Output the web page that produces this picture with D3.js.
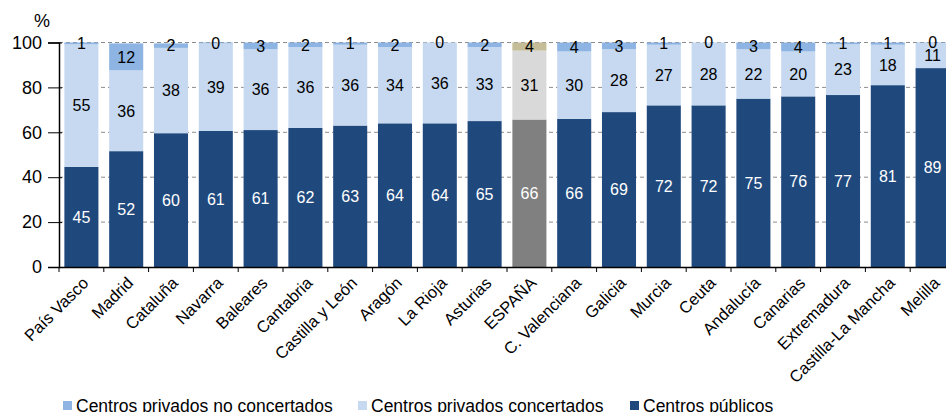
<!DOCTYPE html>
<html>
<head>
<meta charset="utf-8">
<script src="https://d3js.org/d3.v7.min.js"></script>
<style>
  body { margin: 0; background: #fff; }
  svg { display: block; font-family: "Liberation Sans", Arial, sans-serif; }
</style>
</head>
<body>
<div id="chart"></div>
<script>
// regions, ordered as in the chart
var regions = ["País Vasco", "Madrid", "Cataluña", "Navarra", "Baleares", "Cantabria",
  "Castilla y León", "Aragón", "La Rioja", "Asturias", "ESPAÑA", "C. Valenciana",
  "Galicia", "Murcia", "Ceuta", "Andalucía", "Canarias", "Extremadura",
  "Castilla-La Mancha", "Melilla"];
// shares in % (labels show rounded values)
var publicos    = [44.6, 51.6, 59.6, 60.6, 61, 62, 63, 64, 64, 65, 65.7, 66, 69, 72, 72, 75, 76, 76.6, 81, 88.6];
var concertados = [54.6, 36, 38, 39, 36, 36, 36, 34, 36, 33, 30.7, 30, 28, 27, 28, 22, 20, 22.6, 18, 11.2];
var noConcert   = [0.8, 12, 2, 0.4, 3, 2, 1, 2, 0, 2, 3.6, 4, 3, 1, 0, 3, 4, 0.8, 1, 0.2];
var yTicks = [0, 20, 40, 60, 80, 100];

var seriesNames = ["Centros privados no concertados", "Centros privados concertados", "Centros públicos"];
var colors = {pub: "#1f497d", conc: "#c6d9f1", noc: "#8db4e2"};
var spainColors = {pub: "#808080", conc: "#d9d9d9", noc: "#c4bd97"};

var W = 946, H = 412;
var svg = d3.select("#chart").append("svg").attr("width", W).attr("height", H);

var x = d3.scaleBand().domain(regions).range([59, 955]).paddingInner(0.24).paddingOuter(0.12);
var y = d3.scaleLinear().domain([0, 100]).range([267, 42.5]);

// gridlines
svg.append("g").selectAll("line").data(yTicks.filter(d => d > 0)).enter().append("line")
  .attr("x1", 59).attr("x2", W).attr("y1", d => y(d)).attr("y2", d => y(d))
  .attr("stroke", "#8c8c8c").attr("stroke-width", 1).attr("stroke-dasharray", "4,3");

// stacked bars
var rows = regions.map(function(r, i) {
  return {name: r, pub: publicos[i], conc: concertados[i], noc: noConcert[i]};
});
var keys = ["pub", "conc", "noc"];
var stack = d3.stack().keys(keys)(rows);

stack.forEach(function(layer) {
  var k = layer.key;
  svg.append("g").selectAll("rect").data(layer).enter().append("rect")
    .attr("x", d => x(d.data.name))
    .attr("width", x.bandwidth())
    .attr("y", d => y(d[1]))
    .attr("height", d => y(d[0]) - y(d[1]))
    .attr("fill", d => d.data.name == "ESPAÑA" ? spainColors[k] : colors[k]);
});

// value labels
stack.forEach(function(layer) {
  var k = layer.key;
  svg.append("g").selectAll("text").data(layer).enter().append("text")
    .attr("x", d => x(d.data.name) + x.bandwidth() / 2)
    .attr("y", d => y((d[0] + d[1]) / 2))
    .attr("dy", "0.36em")
    .attr("text-anchor", "middle")
    .style("font-size", "16px")
    .attr("fill", k == "pub" ? "#fff" : "#000")
    .text(d => Math.round(d.data[k]));
});

// y axis (ticks cross the axis line)
var yAxis = svg.append("g").attr("transform", "translate(59,0)")
  .call(d3.axisLeft(y).tickValues(yTicks).tickSize(11).tickPadding(6));
yAxis.select(".domain").attr("stroke", "#000").attr("stroke-width", 1.5);
yAxis.selectAll(".tick line").attr("stroke", "#000").attr("x2", -11).attr("x1", 3);
yAxis.selectAll("text").style("font-size", "18px").attr("fill", "#000")
  .style("font-family", "'Liberation Sans', Arial, sans-serif");

// x axis
var xAxis = svg.append("g").attr("transform", "translate(0,267)")
  .call(d3.axisBottom(x).tickSize(0).tickFormat(""));
xAxis.select(".domain").attr("stroke", "#000").attr("stroke-width", 1.5);
svg.append("g").selectAll("line").data(regions).enter().append("line")
  .attr("x1", d => x(d) - x.step() * x.paddingInner() / 2)
  .attr("x2", d => x(d) - x.step() * x.paddingInner() / 2)
  .attr("y1", 267).attr("y2", 272).attr("stroke", "#000");

svg.append("g").selectAll("text").data(regions).enter().append("text")
  .attr("transform", d => "translate(" + (x(d) + x.bandwidth() / 2 + 4) + ",280) rotate(-45)")
  .attr("text-anchor", "end")
  .attr("dy", "0.35em")
  .style("font-size", "16.5px")
  .text(d => d);

// % label
svg.append("text").attr("x", 42).attr("y", 27).attr("text-anchor", "middle")
  .style("font-size", "18px").text("%");

// legend
var legX = [63, 358, 630];
var legColors = [colors.noc, colors.conc, colors.pub];
var leg = svg.append("g").selectAll("g").data(seriesNames).enter().append("g")
  .attr("transform", (d, i) => "translate(" + legX[i] + ",0)");
leg.append("rect").attr("x", 0).attr("y", 401).attr("width", 9).attr("height", 9)
  .attr("fill", (d, i) => legColors[i]);
leg.append("text").attr("x", 13).attr("y", 412).style("font-size", "17.5px").text(d => d);
</script>
</body>
</html>
